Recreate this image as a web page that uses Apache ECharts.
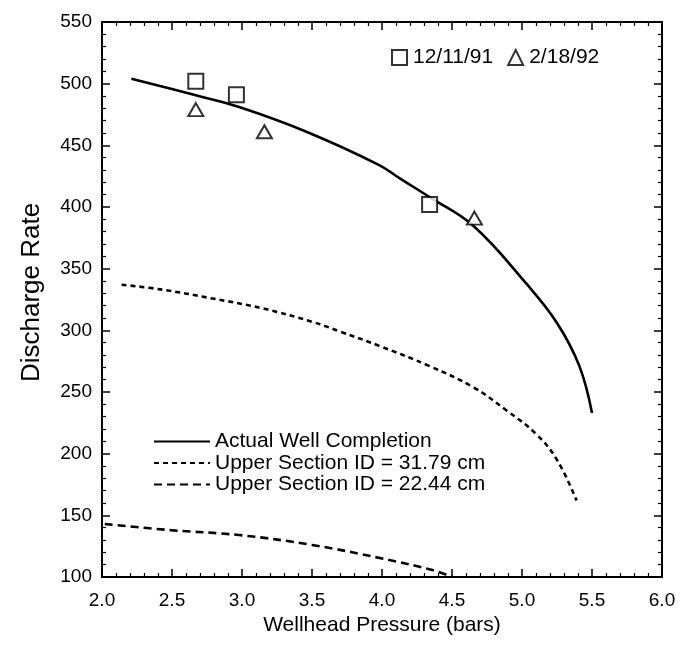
<!DOCTYPE html>
<html>
<head>
<meta charset="utf-8">
<script src="https://cdn.jsdelivr.net/npm/echarts@6/dist/echarts.min.js"></script>
<style>
  html, body { margin: 0; padding: 0; background: #fff; }
  #chart { width: 681px; height: 646px; }
</style>
</head>
<body>
<div id="chart"></div>
<script>
// 读图估计的数据
var actualWell = [[2.21, 504], [2.69, 490], [2.98, 481], [3.46, 461], [3.98, 434], [4.13, 423],
  [4.34, 408], [4.65, 385], [5.03, 338], [5.25, 306], [5.41, 271], [5.50, 233]];
var upper3179 = [[2.14, 337], [2.43, 333], [2.78, 326], [3.14, 318], [3.50, 307], [3.70, 299],
  [3.99, 287], [4.34, 271], [4.65, 254], [4.89, 235], [5.10, 216], [5.25, 195], [5.39, 162]];
var upper2244 = [[2.02, 143], [2.49, 138], [2.98, 134], [3.50, 126], [4.00, 115], [4.36, 105.6], [4.50, 100]];
var squares = [[2.67, 502], [2.96, 491], [4.34, 402]];
var triangles = [[2.67, 479], [3.16, 461], [4.66, 391]];

var font = 'Liberation Sans, Arial, sans-serif';
var chartDom = document.getElementById('chart');
var myChart = echarts.init(chartDom);

function xAx(pos, labels) {
  return {
    type: 'value', position: pos, min: 2, max: 6, interval: 0.5,
    axisLine: { show: true, onZero: false, lineStyle: { color: '#000', width: 2 } },
    axisTick: { show: true, inside: true, length: 8, lineStyle: { color: '#000', width: 1.5 } },
    minorTick: { show: true, splitNumber: 5, length: 4, lineStyle: { color: '#000', width: 1.2 } },
    splitLine: { show: false },
    axisLabel: { show: labels, color: '#000', fontSize: 19, fontFamily: font, margin: 14,
      formatter: function (v) { return v.toFixed(1); } },
    name: labels ? 'Wellhead Pressure (bars)' : '',
    nameLocation: 'middle', nameGap: 36,
    nameTextStyle: { color: '#000', fontSize: 21, fontFamily: font }
  };
}
function yAx(pos, labels) {
  return {
    type: 'value', position: pos, min: 100, max: 550, interval: 50,
    axisLine: { show: true, onZero: false, lineStyle: { color: '#000', width: 2 } },
    axisTick: { show: true, inside: true, length: 8, lineStyle: { color: '#000', width: 1.5 } },
    minorTick: { show: true, splitNumber: 5, length: 4, lineStyle: { color: '#000', width: 1.2 } },
    splitLine: { show: false },
    axisLabel: { show: labels, color: '#000', fontSize: 19, fontFamily: font, margin: 10 },
    name: labels ? 'Discharge Rate' : '',
    nameLocation: 'middle', nameGap: 57, nameRotate: 90,
    nameTextStyle: { color: '#000', fontSize: 26, fontFamily: font, padding: [0, 0, 0, 14] }
  };
}

var option = {
  backgroundColor: '#fff',
  animation: false,
  grid: { left: 102, right: 19, top: 22, bottom: 69 },
  xAxis: [xAx('bottom', true), xAx('top', false)],
  yAxis: [yAx('left', true), yAx('right', false)],
  legend: [
    {
      data: ['12/11/91', '2/18/92'],
      left: 386, top: 42, orient: 'horizontal',
      itemWidth: 15, itemHeight: 15, itemGap: 14,
      textStyle: { color: '#000', fontSize: 21, fontFamily: font, padding: [0, 0, 0, 1] }
    },
    {
      data: ['Actual Well Completion', 'Upper Section ID = 31.79 cm', 'Upper Section ID = 22.44 cm'],
      left: 148, top: 426, orient: 'vertical',
      itemWidth: 56, itemHeight: 12, itemGap: 0.5,
      itemStyle: { opacity: 0 },
      textStyle: { color: '#000', fontSize: 21, lineHeight: 21, fontFamily: font, padding: [0, 0, 0, 0] }
    }
  ],
  series: [
    {
      name: 'Actual Well Completion', type: 'line', data: actualWell, smooth: 0.4,
      symbol: 'none', lineStyle: { color: '#000', width: 2.6, type: 'solid' },
      itemStyle: { color: '#000' }
    },
    {
      name: 'Upper Section ID = 31.79 cm', type: 'line', data: upper3179, smooth: 0.4,
      symbol: 'none', lineStyle: { color: '#000', width: 2.6, type: [5, 4] },
      itemStyle: { color: '#000' }
    },
    {
      name: 'Upper Section ID = 22.44 cm', type: 'line', data: upper2244, smooth: 0.4,
      symbol: 'none', lineStyle: { color: '#000', width: 2.6, type: [8, 5] },
      itemStyle: { color: '#000' }
    },
    {
      name: '12/11/91', type: 'scatter', data: squares, symbol: 'rect', symbolSize: 15,
      itemStyle: { color: '#fff', borderColor: '#000', borderWidth: 2 }, z: 5
    },
    {
      name: '2/18/92', type: 'scatter', data: triangles, symbol: 'triangle', symbolSize: [15, 13],
      itemStyle: { color: '#fff', borderColor: '#000', borderWidth: 2 }, z: 5
    }
  ]
};
option && myChart.setOption(option);
</script>
</body>
</html>
